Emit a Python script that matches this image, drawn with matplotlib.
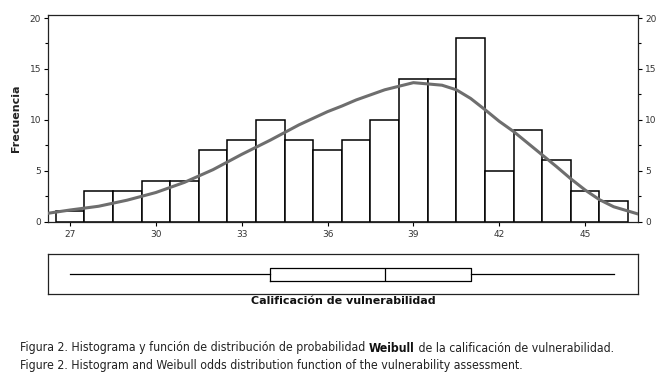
import matplotlib
matplotlib.use("Agg")
import matplotlib.pyplot as plt
from matplotlib.ticker import MultipleLocator

# ---- data ----
bin_centers = [27, 28, 29, 30, 31, 32, 33, 34, 35, 36, 37, 38, 39, 40, 41, 42, 43, 44, 45, 46]
counts = [1, 3, 3, 4, 4, 7, 8, 10, 8, 7, 8, 10, 14, 14, 18, 5, 9, 6, 3, 2]

curve_x = [26.23, 27, 28, 29, 30, 31, 32, 33, 34, 35, 36, 36.5, 37, 38, 39, 40, 40.5,
           41, 41.5, 42, 42.5, 43, 43.5, 44, 44.5, 45, 45.5, 46, 46.85]
curve_y = [0.81, 1.13, 1.5, 2.1, 2.85, 3.85, 5.1, 6.6, 8.0, 9.5, 10.8, 11.35, 11.95, 12.95,
           13.65, 13.4, 12.95, 12.1, 11.0, 9.85, 8.85, 7.7, 6.55, 5.4, 4.2, 3.1, 2.15, 1.45, 0.74]

box_stats = dict(whislo=27.0, q1=34.0, med=38.0, q3=41.0, whishi=46.0)

x_ticks = [27, 30, 33, 36, 39, 42, 45]
y_ticks = [0, 5, 10, 15, 20]

xlabel = "Calificación de vulnerabilidad"
ylabel = "Frecuencia"
caption1_a = "Figura 2. Histograma y función de distribución de probabilidad "
caption1_b = "Weibull"
caption1_c = " de la calificación de vulnerabilidad."
caption2 = "Figure 2. Histogram and Weibull odds distribution function of the vulnerability assessment."

# ---- figure ----
fig = plt.figure(figsize=(6.69, 3.81), dpi=100)
ax = fig.add_axes([0.0717, 0.4186, 0.882, 0.5420])
ax.bar(bin_centers, counts, width=1.0, facecolor="white", edgecolor="black", linewidth=1.1, zorder=2)
ax.plot(curve_x, curve_y, color="#6e6e6e", linewidth=2.2, zorder=3, solid_capstyle="round")
ax.set_xlim(26.23, 46.85)
ax.set_ylim(0, 20.3)
ax.set_xticks(x_ticks)
ax.set_yticks(y_ticks)
ax.yaxis.set_minor_locator(MultipleLocator(2.5))
ax.tick_params(axis="both", which="both", direction="out", labelsize=6.5, colors="black",
               labelcolor="#333333")
ax.tick_params(axis="y", which="major", length=3, width=0.8, left=True, right=True,
               labelleft=True, labelright=True, pad=2)
ax.tick_params(axis="y", which="minor", length=2, width=0.8, left=True, right=True)
ax.tick_params(axis="x", which="major", length=3, width=0.8, pad=3)
for s in ax.spines.values():
    s.set_linewidth(0.9)
    s.set_color("#222222")
ax.set_ylabel(ylabel, fontsize=8, fontweight="bold", color="#222222", labelpad=6)

axb = fig.add_axes([0.0717, 0.2283, 0.882, 0.1042])
bp = axb.bxp([box_stats], vert=False, positions=[0], widths=0.32, showfliers=False,
             showcaps=False,
             boxprops=dict(color="black", linewidth=0.9),
             whiskerprops=dict(color="black", linewidth=0.9),
             medianprops=dict(color="black", linewidth=0.9))
axb.set_xlim(26.23, 46.85)
axb.set_ylim(-0.5, 0.5)
axb.set_xticks([])
axb.set_yticks([])
for s in axb.spines.values():
    s.set_linewidth(0.9)
    s.set_color("#222222")

fig.text(0.5127, 1 - 301 / 381, xlabel, ha="center", va="center", fontsize=8,
         fontweight="bold", color="#111111")

# captions
cap_fs = 8.8
t1 = fig.text(20 / 669, 1 - 348 / 381, caption1_a, ha="left", va="center", fontsize=cap_fs,
              color="#222222", fontstretch="condensed")
fig.canvas.draw()
r = fig.canvas.get_renderer()
bb = t1.get_window_extent(r)
t2 = fig.text(bb.x1 / fig.bbox.width, 1 - 348 / 381, caption1_b, ha="left", va="center",
              fontsize=cap_fs, color="#111111", fontweight="bold", fontstretch="condensed")
bb2 = t2.get_window_extent(r)
fig.text(bb2.x1 / fig.bbox.width, 1 - 348 / 381, caption1_c, ha="left", va="center",
         fontsize=cap_fs, color="#222222", fontstretch="condensed")
fig.text(20 / 669, 1 - 366 / 381, caption2, ha="left", va="center", fontsize=cap_fs,
         color="#222222", fontstretch="condensed")

fig.savefig("out.png", dpi=100, facecolor="white")
